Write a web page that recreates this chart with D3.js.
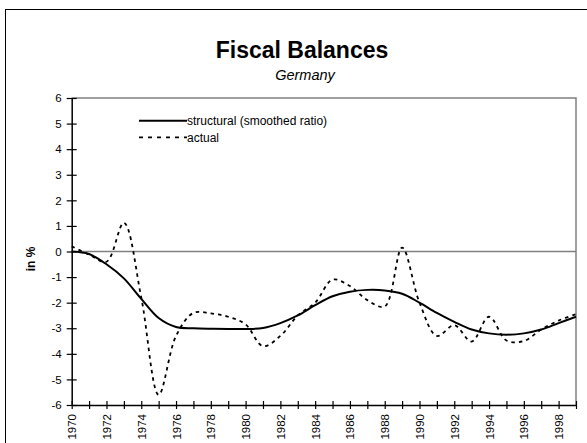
<!DOCTYPE html>
<html><head><meta charset="utf-8">
<script src="https://cdn.jsdelivr.net/npm/d3@7"></script>
<style>body{margin:0;background:#fff}svg{display:block}text{font-family:"Liberation Sans",Arial,sans-serif}</style>
</head><body><svg id="c" width="587" height="443"></svg>
<script>
const years = d3.range(1970, 2000);
const structural = [0.0,-0.1,-0.5,-1.05,-1.85,-2.6,-2.95,-3.0,-3.02,-3.03,-3.03,-2.99,-2.8,-2.5,-2.1,-1.75,-1.57,-1.5,-1.52,-1.65,-2.0,-2.4,-2.75,-3.05,-3.2,-3.25,-3.2,-3.05,-2.8,-2.55];
const actual = [0.2,-0.12,-0.4,1.12,-1.8,-5.6,-3.3,-2.4,-2.42,-2.55,-2.85,-3.7,-3.3,-2.5,-2.0,-1.1,-1.35,-1.9,-2.15,0.15,-2.0,-3.3,-2.88,-3.52,-2.55,-3.48,-3.5,-3.05,-2.7,-2.45];
const yTicks = d3.range(-6, 7);
const xLabels = d3.range(1970, 1999, 2);
const seriesNames = ["structural (smoothed ratio)", "actual"];

const svg = d3.select("#c");
svg.append("rect").attr("x",5.5).attr("y",9.5).attr("width",582).attr("height",460)
  .attr("fill","none").attr("stroke","#000").attr("stroke-width",1);

const x = d3.scaleLinear().domain([1970,1999]).range([71.7,576]);
const y = d3.scaleLinear().domain([-6,6]).range([405,98]);

svg.append("text").attr("x",302).attr("y",58).attr("text-anchor","middle")
  .attr("font-size",23).attr("font-weight","bold").text("Fiscal Balances");
svg.append("text").attr("x",305).attr("y",80).attr("text-anchor","middle")
  .attr("font-size",14.5).attr("font-style","italic").text("Germany");

// plot border (gray)
svg.append("path").attr("d",`M${x(1970)},${y(6)}H${x(1999)}V${y(-6)}`)
  .attr("fill","none").attr("stroke","#808080").attr("stroke-width",1.5);
// zero line
svg.append("line").attr("x1",x(1970)).attr("x2",x(1999)).attr("y1",y(0)).attr("y2",y(0))
  .attr("stroke","#808080").attr("stroke-width",1.5);

// y axis
const ya = svg.append("g").attr("transform",`translate(${x(1970)},0)`)
  .call(d3.axisLeft(y).tickValues(yTicks).tickFormat(d=>d<0?"-"+Math.abs(d):d).tickSize(5).tickPadding(5).tickSizeOuter(0));
ya.select(".domain").attr("stroke","#000").attr("stroke-width",1.5);
ya.selectAll(".tick line").attr("x1",-5).attr("x2",5).attr("stroke-width",1.2);
ya.selectAll(".tick text").attr("font-size",11.5).attr("font-family","Liberation Sans, Arial");

// x axis
const xa = svg.append("g").attr("transform",`translate(0,${y(-6)})`)
  .call(d3.axisBottom(x).tickValues(years).tickFormat(d=>xLabels.includes(d)?String(d):"").tickSize(4).tickSizeOuter(0));
xa.select(".domain").attr("stroke","#000").attr("stroke-width",1.5);
xa.selectAll(".tick line").attr("y1",-4).attr("y2",4).attr("stroke-width",1.2);
xa.selectAll(".tick text").attr("font-size",11.5).attr("font-family","Liberation Sans, Arial")
  .attr("text-anchor","end").attr("transform","translate(0,9) rotate(-90)").attr("x",0).attr("y",0).attr("dy","0.35em");

svg.append("text").attr("transform","translate(31,259) rotate(-90)").attr("text-anchor","middle")
  .attr("dy","0.35em").attr("font-size",12).attr("font-weight","bold").text("in %");

const line = d3.line().x((d,i)=>x(years[i])).y(d=>y(d)).curve(d3.curveCatmullRom.alpha(0.5));
svg.append("path").attr("d",line(actual)).attr("fill","none").attr("stroke","#000")
  .attr("stroke-width",1.8).attr("stroke-dasharray","3.5,4");
svg.append("path").attr("d",line(structural)).attr("fill","none").attr("stroke","#000")
  .attr("stroke-width",2);

// legend
const lg = svg.append("g");
lg.append("line").attr("x1",139).attr("x2",187).attr("y1",120.7).attr("y2",120.7).attr("stroke","#000").attr("stroke-width",2);
lg.append("text").attr("x",187).attr("y",120.7).attr("dy","0.35em").attr("font-size",12).text(seriesNames[0]);
lg.append("line").attr("x1",139).attr("x2",187).attr("y1",137.3).attr("y2",137.3).attr("stroke","#000").attr("stroke-width",1.8).attr("stroke-dasharray","4,5");
lg.append("text").attr("x",187).attr("y",137.3).attr("dy","0.35em").attr("font-size",12).text(seriesNames[1]);
</script></body></html>
